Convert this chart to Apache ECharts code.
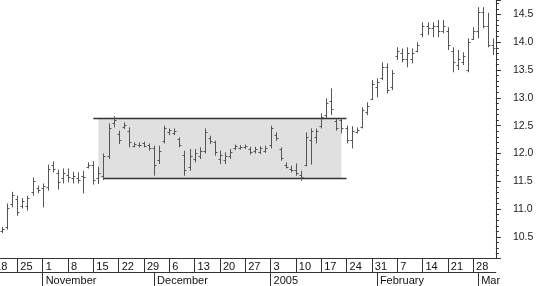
<!DOCTYPE html>
<html><head><meta charset="utf-8">
<script src="https://cdn.jsdelivr.net/npm/echarts@6/dist/echarts.min.js"></script>
<style>html,body{margin:0;padding:0;background:#fff}#c{width:540px;height:286px}</style>
</head><body><div id="c"></div>
<script>
const dates = [
'2004-10-18','2004-10-19','2004-10-20','2004-10-21','2004-10-22',
'2004-10-25','2004-10-26','2004-10-27','2004-10-28','2004-10-29',
'2004-11-01','2004-11-02','2004-11-03','2004-11-04','2004-11-05',
'2004-11-08','2004-11-09','2004-11-10','2004-11-11','2004-11-12',
'2004-11-15','2004-11-16','2004-11-17','2004-11-18','2004-11-19',
'2004-11-22','2004-11-23','2004-11-24','2004-11-25','2004-11-26',
'2004-11-29','2004-11-30','2004-12-01','2004-12-02','2004-12-03',
'2004-12-06','2004-12-07','2004-12-08','2004-12-09','2004-12-10',
'2004-12-13','2004-12-14','2004-12-15','2004-12-16','2004-12-17',
'2004-12-20','2004-12-21','2004-12-22','2004-12-23','2004-12-24',
'2004-12-27','2004-12-28','2004-12-29','2004-12-30','2004-12-31',
'2005-01-03','2005-01-04','2005-01-05','2005-01-06','2005-01-07',
'2005-01-10','2005-01-11','2005-01-12','2005-01-13','2005-01-14',
'2005-01-17','2005-01-18','2005-01-19','2005-01-20','2005-01-21',
'2005-01-24','2005-01-25','2005-01-26','2005-01-27','2005-01-28',
'2005-01-31','2005-02-01','2005-02-02','2005-02-03','2005-02-04',
'2005-02-07','2005-02-08','2005-02-09','2005-02-10','2005-02-11',
'2005-02-14','2005-02-15','2005-02-16','2005-02-17','2005-02-18',
'2005-02-21','2005-02-22','2005-02-23','2005-02-24','2005-02-25',
'2005-02-28','2005-03-01','2005-03-02','2005-03-03','2005-03-04'
];
const openP = [null,null,
10.60,10.68,11.10,11.18,11.05,11.05,11.30,11.38,
11.38,11.40,11.80,11.65,11.55,
11.62,11.55,11.56,11.60,11.76,
11.80,11.55,11.60,11.95,12.55,
12.35,12.48,12.40,12.14,12.16,
12.18,12.15,12.10,11.88,12.22,
12.38,12.36,12.26,11.98,11.75,
11.90,11.95,12.05,12.28,12.20,
11.90,11.88,11.95,12.10,12.10,
12.12,12.08,12.04,12.02,12.05,
12.15,12.33,12.08,11.80,11.72,
11.70,11.62,11.80,12.25,12.30,
12.50,12.70,12.95,12.58,12.60,
12.45,12.25,12.38,12.48,12.75,
12.98,13.20,13.35,13.55,13.20,
13.75,13.80,13.70,13.70,13.85,
14.15,14.30,14.25,14.30,14.20,
14.20,13.85,13.60,13.65,13.50,
14.05,14.20,14.55,14.30,13.95];
const highP = [null,null,
10.68,11.10,11.31,11.24,11.20,11.24,11.57,11.42,
11.46,11.80,11.86,11.71,11.73,
11.73,11.67,11.66,11.69,11.84,
11.86,11.76,12.00,12.54,12.67,
12.41,12.56,12.47,12.20,12.20,
12.21,12.18,12.14,12.14,12.50,
12.45,12.45,12.29,12.05,12.08,
12.08,12.11,12.45,12.32,12.23,
12.05,12.02,12.08,12.16,12.15,
12.16,12.12,12.12,12.13,12.14,
12.50,12.38,12.11,11.84,11.78,
11.82,11.69,12.38,12.45,12.45,
12.72,12.99,13.17,12.63,12.63,
12.50,12.49,12.47,12.83,12.92,
13.32,13.35,13.64,13.62,13.50,
13.91,13.89,13.91,13.89,14.00,
14.36,14.36,14.36,14.40,14.40,
14.27,13.91,13.86,13.82,14.07,
14.27,14.63,14.63,14.53,14.07];
const lowP = [null,null,
10.57,10.63,11.03,10.88,11.01,10.97,11.24,11.28,
11.03,11.33,11.66,11.35,11.46,
11.48,11.46,11.46,11.28,11.73,
11.44,11.45,11.52,11.90,12.47,
12.17,12.44,12.11,12.11,12.11,
12.11,12.05,11.60,11.81,12.18,
12.33,12.33,12.11,11.60,11.69,
11.84,11.90,12.00,12.17,11.96,
11.81,11.81,11.90,12.06,12.07,
12.08,11.98,12.00,11.99,12.01,
12.09,12.23,11.87,11.73,11.66,
11.60,11.51,11.77,11.80,12.18,
12.45,12.63,12.69,12.41,12.36,
12.18,12.09,12.36,12.45,12.69,
12.96,13.01,13.32,13.08,13.14,
13.68,13.64,13.55,13.62,13.82,
14.09,14.13,14.09,14.09,14.16,
13.86,13.46,13.50,13.59,13.46,
14.04,14.07,14.25,13.91,13.77];
const closeP = [null,null,
10.65,11.02,11.25,10.95,11.15,11.20,11.50,11.35,
11.42,11.72,11.72,11.48,11.65,
11.58,11.60,11.52,11.58,11.80,
11.52,11.65,11.95,12.45,12.60,
12.25,12.52,12.20,12.17,12.15,
12.14,12.10,11.80,12.05,12.45,
12.42,12.41,12.15,11.70,11.95,
12.00,12.05,12.38,12.22,12.02,
11.98,11.95,12.02,12.13,12.12,
12.13,12.02,12.08,12.10,12.10,
12.45,12.28,11.92,11.76,11.70,
11.65,11.58,12.30,12.40,12.40,
12.65,12.90,12.80,12.45,12.45,
12.25,12.40,12.42,12.78,12.85,
13.25,13.28,13.55,13.15,13.45,
13.85,13.70,13.80,13.80,13.95,
14.30,14.25,14.30,14.20,14.30,
13.95,13.65,13.70,13.75,14.00,
14.20,14.55,14.30,13.95,13.90];

const yRange = [10.12, 14.76];
const boxLevels = [11.55, 12.63];
const boxFillDates = ['2004-11-16', '2005-01-21'];
const boxTopLineDates = ['2004-11-15', '2005-01-24'];
const boxBottomLineDates = ['2004-11-17', '2005-01-24'];
const monthLabels = {'11': 'November', '12': 'December', '01': '2005', '02': 'February', '03': 'Mar'};

const isMonday = (i) => new Date(dates[i] + 'T00:00:00Z').getUTCDay() === 1;
const isMonthStart = (i) => i > 0 && dates[i].slice(5, 7) !== dates[i - 1].slice(5, 7);

const ohlc = [];
dates.forEach((d, i) => {
  if (highP[i] != null) ohlc.push([i, openP[i], highP[i], lowP[i], closeP[i]]);
});

const barColor = '#555';
const chart = echarts.init(document.getElementById('c'), null, {renderer: 'canvas'});
const axisColor = '#333';
const font = 'Liberation Sans, Arial, sans-serif';

chart.setOption({
  animation: false,
  backgroundColor: '#fff',
  grid: {left: -10.5, right: 44.1, top: 0, bottom: 28, containLabel: false, outerBoundsMode: 'none'},
  xAxis: [{
    type: 'category', data: dates, boundaryGap: true, position: 'bottom',
    axisLine: {show: true, lineStyle: {color: axisColor, width: 1}},
    axisTick: {show: true, alignWithLabel: true, length: 14, interval: (i) => isMonday(i), lineStyle: {color: axisColor}},
    axisLabel: {show: true, interval: (i) => isMonday(i), align: 'left', margin: 3, padding: [0, 0, 0, 3],
      fontSize: 11, fontFamily: font, color: '#111',
      formatter: (v) => String(parseInt(v.slice(8, 10), 10))},
    splitLine: {show: false}
  }, {
    type: 'category', data: dates, boundaryGap: true, position: 'bottom', offset: 14,
    axisLine: {show: true, lineStyle: {color: axisColor, width: 1}},
    axisTick: {show: true, alignWithLabel: true, length: 14, interval: (i) => isMonthStart(i), lineStyle: {color: axisColor}},
    axisLabel: {show: true, interval: (i) => isMonthStart(i), align: 'left', margin: 3, padding: [0, 0, 0, 3],
      fontSize: 11, fontFamily: font, color: '#111',
      formatter: (v) => monthLabels[v.slice(5, 7)] || ''},
    splitLine: {show: false}
  }],
  yAxis: {
    type: 'value', position: 'right', min: yRange[0], max: yRange[1], splitNumber: 9,
    axisLine: {show: true, onZero: false, lineStyle: {color: axisColor}},
    axisTick: {show: true, length: 5, lineStyle: {color: axisColor}},
    minorTick: {show: true, splitNumber: 5, length: 3, lineStyle: {color: axisColor}},
    axisLabel: {show: true, showMinLabel: false, showMaxLabel: false, margin: 17, fontSize: 10.5,
      fontFamily: font, color: '#222', formatter: (v) => v.toFixed(1)},
    splitLine: {show: false}
  },
  series: [{
    type: 'custom', xAxisIndex: 0, yAxisIndex: 0, z: 1, silent: true,
    data: [[0]],
    renderItem: (params, api) => {
      const fi0 = dates.indexOf(boxFillDates[0]), fi1 = dates.indexOf(boxFillDates[1]);
      const ti0 = dates.indexOf(boxTopLineDates[0]), ti1 = dates.indexOf(boxTopLineDates[1]);
      const bi0 = dates.indexOf(boxBottomLineDates[0]), bi1 = dates.indexOf(boxBottomLineDates[1]);
      const a = api.coord([fi0, boxLevels[1]]), b = api.coord([fi1, boxLevels[0]]);
      const t0 = api.coord([ti0, boxLevels[1]]), t1 = api.coord([ti1, boxLevels[1]]);
      const b0 = api.coord([bi0, boxLevels[0]]), b1 = api.coord([bi1, boxLevels[0]]);
      return {type: 'group', children: [
        {type: 'rect', shape: {x: a[0], y: a[1], width: b[0] - a[0], height: b[1] - a[1]}, style: {fill: '#e0e0e0'}},
        {type: 'line', shape: {x1: t0[0], y1: t0[1], x2: t1[0], y2: t1[1]}, style: {stroke: '#333', lineWidth: 1.5}},
        {type: 'line', shape: {x1: b0[0], y1: b0[1], x2: b1[0], y2: b1[1]}, style: {stroke: '#333', lineWidth: 1.5}}
      ]};
    }
  }, {
    type: 'custom', xAxisIndex: 0, yAxisIndex: 0, z: 2, silent: true,
    data: ohlc,
    encode: {x: 0, y: [1, 2, 3, 4]},
    renderItem: (params, api) => {
      const i = api.value(0);
      const pO = api.coord([i, api.value(1)]), pH = api.coord([i, api.value(2)]);
      const pL = api.coord([i, api.value(3)]), pC = api.coord([i, api.value(4)]);
      const x = Math.round(pH[0]) + 0.5;
      const yo = Math.round(pO[1]) + 0.5, yc = Math.round(pC[1]) + 0.5;
      const st = {stroke: barColor, lineWidth: 1};
      return {type: 'group', children: [
        {type: 'line', shape: {x1: x, y1: pH[1], x2: x, y2: pL[1]}, style: st},
        {type: 'line', shape: {x1: x - 2, y1: yo, x2: x, y2: yo}, style: st},
        {type: 'line', shape: {x1: x, y1: yc, x2: x + 2, y2: yc}, style: st}
      ]};
    }
  }]
});
</script>
</body></html>
